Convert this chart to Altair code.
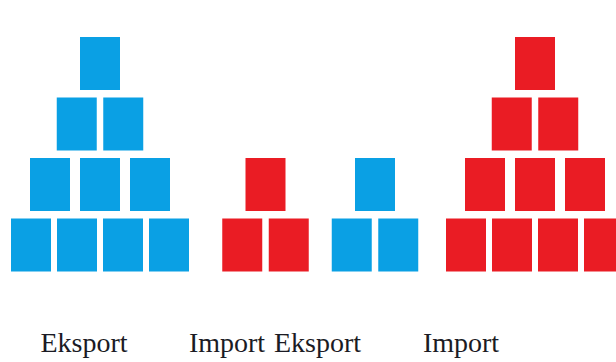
import altair as alt
import pandas as pd

# ---- data ----
labels = ["Eksport", "Import", "Eksport", "Import"]
levels = [4, 2, 2, 4]          # number of rows in each pyramid (bottom row has this many squares)
colors = ["#0aa0e4", "#ea1c24", "#0aa0e4", "#ea1c24"]

# ---- layout (pixel-like units) ----
W, H = 616, 362
centers = [100, 265.5, 375, 535]
label_x = [84, 227, 317.5, 461]
label_y = 352
sq_w, sq_h = 40, 53
row_step_y = 60.5
bottom_top = 218.5
col_step = {1: 0, 2: 46.5, 3: 50, 4: 46}

rows = []
for p, (n, cx, col) in enumerate(zip(levels, centers, colors)):
    for r in range(n):
        k = n - r
        top = bottom_top - r * row_step_y
        for i in range(k):
            x_c = cx + (i - (k - 1) / 2) * col_step[k]
            rows.append({"pyr": p, "x": x_c - sq_w / 2, "x2": x_c + sq_w / 2,
                         "y": top, "y2": top + sq_h, "color": col})
sq = pd.DataFrame(rows)
lab = pd.DataFrame({"label": labels, "x": label_x, "y": [label_y] * 4})

xs = alt.Scale(domain=[0, W], nice=False, zero=False)
ys = alt.Scale(domain=[0, H], reverse=True, nice=False, zero=False)

squares = alt.Chart(sq).mark_rect().encode(
    x=alt.X("x:Q", scale=xs, axis=None),
    x2="x2:Q",
    y=alt.Y("y:Q", scale=ys, axis=None),
    y2="y2:Q",
    color=alt.Color("color:N", scale=None),
)

text = alt.Chart(lab).mark_text(
    font="Liberation Serif", fontSize=28, align="center", baseline="alphabetic",
    color="#1b1b24",
).encode(
    x=alt.X("x:Q", scale=xs, axis=None),
    y=alt.Y("y:Q", scale=ys, axis=None),
    text="label:N",
)

chart = (squares + text).properties(
    width=W, height=H, padding=0, autosize=alt.AutoSizeParams(type="none"),
    background="white",
).configure_view(stroke=None)

chart.save("out.html", embed_options={"renderer": "svg", "actions": False})
